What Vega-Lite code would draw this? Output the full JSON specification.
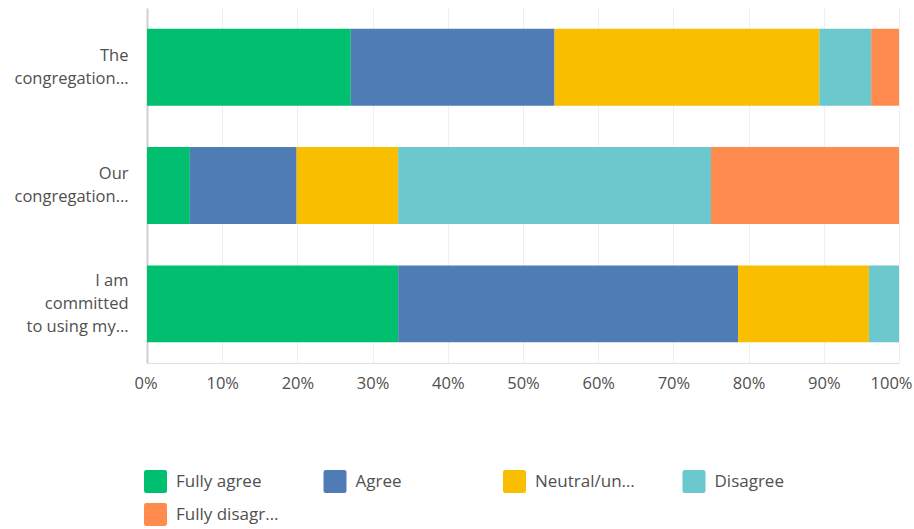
{
  "$schema": "https://vega.github.io/schema/vega-lite/v6.json",
  "autosize": "none",
  "width": 752,
  "height": 355,
  "padding": {"left": 147, "top": 8, "right": 15, "bottom": 166},
  "background": "white",
  "config": {
    "font": "Open Sans",
    "view": {"stroke": null}
  },
  "data": {
    "values": [
      {"q": "The |congregation…", "answer": "Fully agree", "k": 1, "value": 27.1},
      {"q": "The |congregation…", "answer": "Agree", "k": 2, "value": 27.1},
      {"q": "The |congregation…", "answer": "Neutral/un…", "k": 3, "value": 35.2},
      {"q": "The |congregation…", "answer": "Disagree", "k": 4, "value": 6.9},
      {"q": "The |congregation…", "answer": "Fully disagr…", "k": 5, "value": 3.7},
      {"q": "Our |congregation…", "answer": "Fully agree", "k": 1, "value": 5.7},
      {"q": "Our |congregation…", "answer": "Agree", "k": 2, "value": 14.2},
      {"q": "Our |congregation…", "answer": "Neutral/un…", "k": 3, "value": 13.5},
      {"q": "Our |congregation…", "answer": "Disagree", "k": 4, "value": 41.6},
      {"q": "Our |congregation…", "answer": "Fully disagr…", "k": 5, "value": 25.0},
      {"q": "I am |committed |to using my…", "answer": "Fully agree", "k": 1, "value": 33.4},
      {"q": "I am |committed |to using my…", "answer": "Agree", "k": 2, "value": 45.2},
      {"q": "I am |committed |to using my…", "answer": "Neutral/un…", "k": 3, "value": 17.4},
      {"q": "I am |committed |to using my…", "answer": "Disagree", "k": 4, "value": 4.0},
      {"q": "I am |committed |to using my…", "answer": "Fully disagr…", "k": 5, "value": 0}
    ]
  },
  "mark": {"type": "bar"},
  "encoding": {
    "y": {
      "field": "q",
      "type": "nominal",
      "sort": ["The |congregation…", "Our |congregation…", "I am |committed |to using my…"],
      "scale": {"paddingInner": 0.35, "paddingOuter": 0.175},
      "axis": {
        "title": null,
        "labelExpr": "split(datum.value, '|')",
        "labelFontSize": 16.5,
        "labelColor": "#505050",
        "labelLineHeight": 23,
        "labelPadding": 19,
        "labelLimit": 200,
        "labelOffset": {
          "condition": {"test": "indexof(datum.value, 'committed') >= 0", "value": -23},
          "value": -11.5
        },
        "ticks": false,
        "domainColor": "#d0d0d0",
        "domainWidth": 2,
        "grid": false
      }
    },
    "x": {
      "field": "value",
      "type": "quantitative",
      "stack": "normalize",
      "scale": {"domain": [0, 1], "nice": false},
      "axis": {
        "title": null,
        "format": ".0%",
        "values": [0, 0.1, 0.2, 0.3, 0.4, 0.5, 0.6, 0.7, 0.8, 0.9, 1],
        "labelFontSize": 16.5,
        "labelColor": "#505050",
        "labelPadding": 12,
        "ticks": false,
        "domainColor": "#e0e0e0",
        "domainWidth": 1,
        "grid": true,
        "gridColor": "#efefef",
        "labelFlush": true,
        "labelFlushOffset": 13
      }
    },
    "color": {
      "field": "answer",
      "type": "nominal",
      "sort": ["Fully agree", "Agree", "Neutral/un…", "Disagree", "Fully disagr…"],
      "scale": {
        "domain": ["Fully agree", "Agree", "Neutral/un…", "Disagree", "Fully disagr…"],
        "range": ["#00bf6f", "#507cb6", "#f9be00", "#6bc8cd", "#ff8b4f"]
      },
      "legend": {
        "title": null,
        "orient": "none",
        "direction": "horizontal",
        "legendX": -3,
        "legendY": 462,
        "columns": 4,
        "gridAlign": "all",
        "columnPadding": 44.5,
        "rowPadding": 10,
        "symbolType": "M-0.8,-1H0.8Q1,-1 1,-0.8V0.8Q1,1 0.8,1H-0.8Q-1,1 -1,0.8V-0.8Q-1,-1 -0.8,-1Z",
        "symbolSize": 529,
        "symbolStrokeWidth": 0,
        "symbolOpacity": 1,
        "labelFontSize": 17,
        "labelColor": "#505050",
        "labelOffset": 9,
        "labelLimit": 200
      }
    },
    "order": {"field": "k", "type": "quantitative"}
  }
}
